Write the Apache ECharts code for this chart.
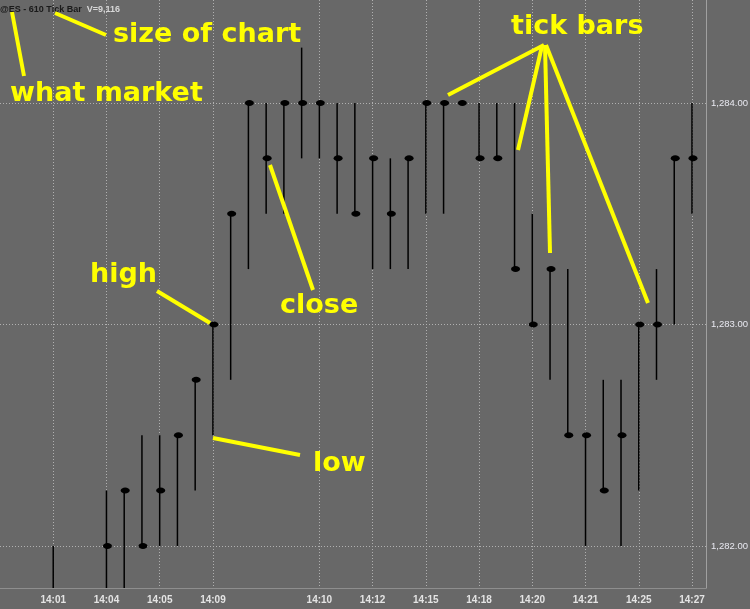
<!DOCTYPE html>
<html>
<head>
<meta charset="utf-8">
<script src="https://cdn.jsdelivr.net/npm/echarts@6/dist/echarts.min.js"></script>
<style>
html,body{margin:0;padding:0;background:#686868;}
#c{width:750px;height:609px;}
</style>
</head>
<body>
<div id="c"></div>
<script>
// Slot labels (one per tick bar slot, '' = unlabeled)
const slotLabels = ['14:01','','','14:04','','','14:05','','','14:09','','','','','','14:10','','','14:12','','','14:15','','','14:18','','','14:20','','','14:21','','','14:25','','','14:27',''];
const labeledSlots = [0,3,6,9,15,18,21,24,27,30,33,36];
// Tick bar values (null = empty slot)
const highs  = [1282.00,null,null,1282.25,1282.25,1282.50,1282.50,1282.50,1282.75,1283.00,1283.50,1284.00,1284.00,1284.00,1284.25,1284.00,1284.00,1284.00,1283.75,1283.75,1283.75,1284.00,1284.00,1284.00,1284.00,1284.00,1284.00,1283.50,1283.25,1283.25,1282.50,1282.75,1282.75,1283.00,1283.25,1283.75,1284.00,1283.50];
const lows   = [1281.75,null,null,1281.75,1281.75,1282.00,1282.00,1282.00,1282.25,1282.50,1282.75,1283.25,1283.50,1283.50,1283.75,1283.75,1283.50,1283.50,1283.25,1283.25,1283.25,1283.50,1283.50,1284.00,1283.75,1283.75,1283.25,1283.00,1282.75,1282.50,1282.00,1282.25,1282.00,1282.25,1282.75,1283.00,1283.50,1283.50];
const closes = [1281.75,null,null,1282.00,1282.25,1282.00,1282.25,1282.50,1282.75,1283.00,1283.50,1284.00,1283.75,1284.00,1284.00,1284.00,1283.75,1283.50,1283.75,1283.50,1283.75,1284.00,1284.00,1284.00,1283.75,1283.75,1283.25,1283.00,1283.25,1282.50,1282.50,1282.25,1282.50,1283.00,1283.00,1283.75,1283.75,1283.50];
const priceTicks = [1282, 1283, 1284];

const data = [];
for (let i = 0; i < highs.length; i++) {
  if (highs[i] == null) continue;
  data.push([i, highs[i], lows[i], closes[i]]);
}

const chart = echarts.init(document.getElementById('c'), null, {renderer:'canvas'});
const Y = '#ffff00';
function yl(x1,y1,x2,y2){return {type:'line',z:100,shape:{x1,y1,x2,y2},style:{stroke:Y,lineWidth:4}};}
function yt(x,y,t){return {type:'text',z:100,x:x,y:y,style:{text:t,fill:Y,font:'bold 27px "DejaVu Sans"',verticalAlign:'middle',align:'left'}};}

chart.setOption({
  backgroundColor:'#686868',
  animation:false,
  title:{
    left:0, top:1, padding:0,
    text:'{a|@ES - 610 Tick Bar} {b|V=9,116}',
    textStyle:{rich:{
      a:{color:'#1a1a1a',fontSize:9,fontFamily:'Liberation Sans'},
      b:{color:'#d8d8d8',fontSize:9,fontFamily:'Liberation Sans'}
    }}
  },
  grid:{left:0,right:44,top:0,bottom:21,containLabel:false,outerBoundsMode:'none'},
  xAxis:{
    type:'value', min:-3, max:36.79,
    axisLine:{show:true,onZero:false,lineStyle:{color:'#8e8e8e',width:1}},
    axisTick:{show:false,customValues:labeledSlots},
    axisLabel:{customValues:labeledSlots,formatter:v=>slotLabels[v]||'',color:'#e4e4e4',fontWeight:'bold',fontSize:10,fontFamily:'Liberation Sans',margin:7},
    splitLine:{show:true,lineStyle:{color:'#b0b0b0',type:[1,2],width:1}}
  },
  yAxis:{
    type:'value', position:'right', min:1281.81, max:1284.465, scale:true,
    axisLine:{show:true,onZero:false,lineStyle:{color:'#a0a0a0',width:1}},
    axisTick:{show:false,customValues:priceTicks},
    axisLabel:{customValues:priceTicks,formatter:v=>v.toLocaleString('en-US',{minimumFractionDigits:2,maximumFractionDigits:2}),color:'#e8e8f0',fontSize:9.5,fontFamily:'Liberation Sans',margin:5},
    splitLine:{show:true,lineStyle:{color:'#b0b0b0',type:[1,2],width:1}}
  },
  series:[{
    type:'custom',
    clip:true,
    data:data,
    encode:{x:0,y:[1,2,3]},
    renderItem:function(params,api){
      const i=api.value(0),h=api.value(1),l=api.value(2),c=api.value(3);
      const p1=api.coord([i,h]),p2=api.coord([i,l]),pc=api.coord([i,c]);
      return {type:'group',children:[
        {type:'line',shape:{x1:p1[0],y1:p1[1],x2:p2[0],y2:p2[1]},style:{stroke:'#000',lineWidth:1.5}},
        {type:'ellipse',shape:{cx:pc[0]+1,cy:pc[1],rx:4.5,ry:3},style:{fill:'#000'}}
      ]};
    }
  }],
  graphic:[
    yl(12,12,24,76), yl(55,13,106,35), yl(157,291,210,323), yl(213,438,300,455), yl(270,165,313,290),
    yl(544,45,448,95), yl(542,46,518,150), yl(545,45,550,253), yl(546,45,648,303),
    yt(113,35,'size of chart'), yt(10,94,'what market'), yt(511,27,'tick bars'),
    yt(90,275,'high'), yt(280,306,'close'), yt(313,464,'low')
  ]
});
</script>
</body>
</html>
